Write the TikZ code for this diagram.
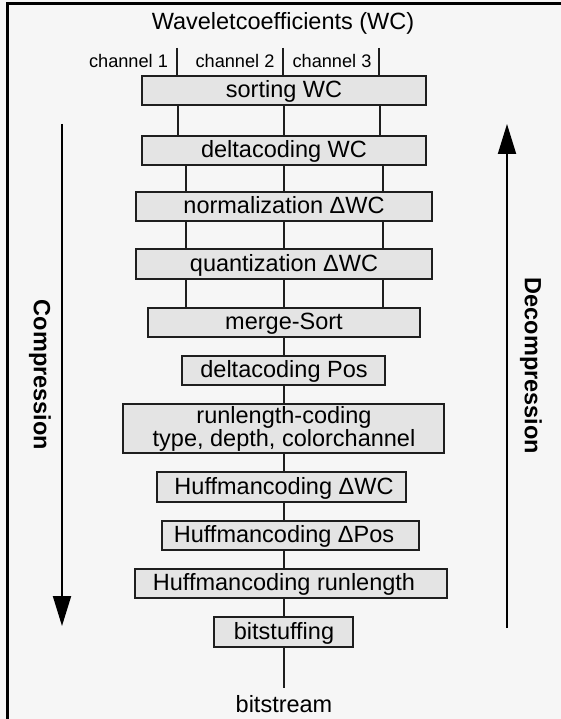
\documentclass[tikz,border=0pt]{standalone}
\usepackage{fontspec}
\setmainfont{Liberation Sans}
\usetikzlibrary{arrows.meta}
\definecolor{bg}{HTML}{F6F6F6}
\definecolor{boxfill}{HTML}{E4E4E4}
\definecolor{ink}{HTML}{1E1E1E}
\begin{document}
\begin{tikzpicture}[x=1pt,y=-1pt,
  box/.style={draw=ink, fill=boxfill, line width=1.3pt, inner sep=0pt, minimum height=29pt},
  txt/.style={font=\fontsize{23.5}{20.5}\selectfont, inner sep=0pt, anchor=base, text=black},
  small/.style={font=\fontsize{18.2}{20}\selectfont, inner sep=0pt, anchor=base, text=black},
  conn/.style={draw=ink, line width=1.3pt},
  bigarrow/.style={draw=black, line width=2pt, -{Triangle[width=18pt,length=30pt]}},
  side/.style={font=\bfseries\fontsize{23.5}{25}\selectfont, rotate=-90, inner sep=0pt, text=black}]
\fill[bg] (0,0) rectangle (561,719);
\useasboundingbox (0,0) rectangle (561,719);
\draw[line width=3pt] (7,719) -- (7,4) -- (561,4);

% title and channels
\node[txt] (title) at (283,30) {Waveletcoefficients (WC)};
\node[small] (ch1) at (128.5,68) {channel 1};
\node[small] (ch2) at (235,68) {channel 2};
\node[small] (ch3) at (332,68) {channel 3};

% boxes
\node[box, minimum width=284pt] (b1) at (284,90.5) {};
\node[box, minimum width=284pt] (b2) at (284,150.5) {};
\node[box, minimum width=296pt] (b3) at (284,206.5) {};
\node[box, minimum width=296pt, minimum height=30pt] (b4) at (284,264) {};
\node[box, minimum width=272pt] (b5) at (284,322.5) {};
\node[box, minimum width=203pt] (b6) at (283.5,370.5) {};
\node[box, minimum width=321pt, minimum height=49pt] (b7) at (283.5,428.5) {};
\node[box, minimum width=249pt, minimum height=30pt] (b8) at (281.5,487) {};
\node[box, minimum width=257pt] (b9) at (290.5,535.5) {};
\node[box, minimum width=312pt] (b10) at (291,583.5) {};
\node[box, minimum width=139pt, minimum height=30pt] (b11) at (283.5,632) {};

% box texts
\node[txt] (t1) at (284,97.5) {sorting WC};
\node[txt] (t2) at (284,157.5) {deltacoding WC};
\node[txt] (t3) at (284,213.5) {normalization ΔWC};
\node[txt] (t4) at (284,271.5) {quantization ΔWC};
\node[txt] (t5) at (284,329.5) {merge-Sort};
\node[txt] (t6) at (284,377.5) {deltacoding Pos};
\node[txt, anchor=center, align=center] (t7) at (284,428.5) {runlength-coding\\type, depth, colorchannel};
\node[txt] (t8) at (284,494.5) {Huffmancoding ΔWC};
\node[txt] (t9) at (284,542.5) {Huffmancoding ΔPos};
\node[txt] (t10) at (284,590.5) {Huffmancoding runlength};
\node[txt] (t11) at (284,639.5) {bitstuffing};
\node[txt] (bs) at (284,712) {bitstream};

% x guides
\coordinate (d1) at (177,48);
\coordinate (d2) at (283,48);
\coordinate (d3) at (379,48);
\coordinate (u1) at (178,0);
\coordinate (u2) at (284,0);
\coordinate (u3) at (380,0);
\coordinate (v1) at (186,0);
\coordinate (v2) at (284,0);
\coordinate (v3) at (383,0);
\coordinate (bsend) at (284,688);

% channel dividers
\foreach \d in {d1,d2,d3} \draw[conn] (\d) -- (b1.north -| \d);
% three-channel connectors
\foreach \u in {u1,u2,u3} \draw[conn] (b1.south -| \u) -- (b2.north -| \u);
\foreach \v in {v1,v2,v3} {
  \draw[conn] (b2.south -| \v) -- (b3.north -| \v);
  \draw[conn] (b3.south -| \v) -- (b4.north -| \v);
  \draw[conn] (b4.south -| \v) -- (b5.north -| \v);
}
% single connectors
\draw[conn] (b5.south -| u2) -- (b6.north -| u2);
\draw[conn] (b6.south -| u2) -- (b7.north -| u2);
\draw[conn] (b7.south -| u2) -- (b8.north -| u2);
\draw[conn] (b8.south -| u2) -- (b9.north -| u2);
\draw[conn] (b9.south -| u2) -- (b10.north -| u2);
\draw[conn] (b10.south -| u2) -- (b11.north -| u2);
\draw[conn] (b11.south -| u2) -- (bsend);

% side arrows
\coordinate (ca) at (62,124);
\coordinate (cb) at (62,626);
\coordinate (da) at (507,628);
\coordinate (db) at (507,124);
\draw[bigarrow] (ca) -- (cb);
\draw[bigarrow] (da) -- (db);
\node[side] (comp) at (40,375) {Compression};
\node[side] (decomp) at (531,366) {Decompression};
\end{tikzpicture}
\end{document}
